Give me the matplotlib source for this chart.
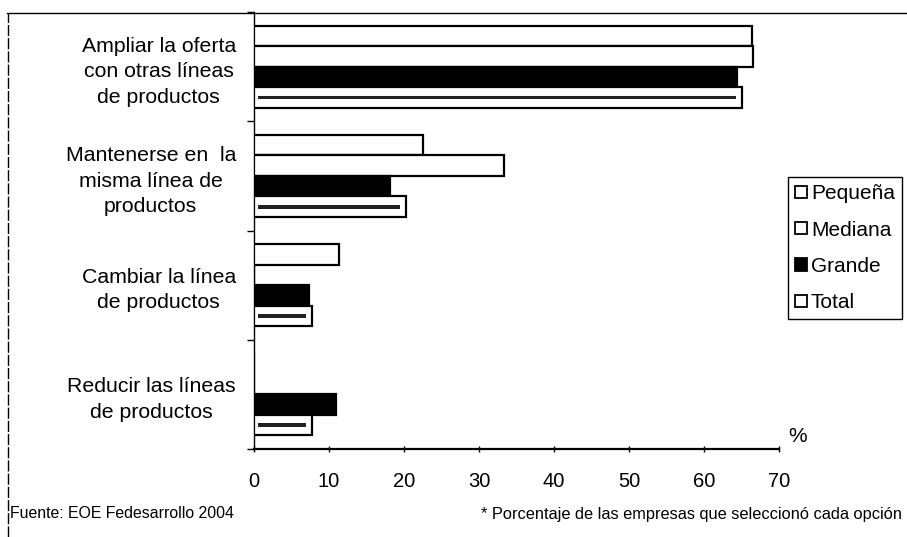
import matplotlib
matplotlib.use("Agg")
import matplotlib.pyplot as plt
from matplotlib.patches import Patch
from matplotlib.lines import Line2D
import numpy as np

plt.rcParams['font.family'] = ['Liberation Sans', 'DejaVu Sans']

categories = [
    "Ampliar la oferta\ncon otras líneas\nde productos",
    "Mantenerse en  la\nmisma línea de\nproductos",
    "Cambiar la línea\nde productos",
    "Reducir las líneas\nde productos",
]
series_names = ["Pequeña", "Mediana", "Grande", "Total"]
pequena = [66.4, 22.5, 11.3, 0.0]
mediana = [66.5, 33.3, 0.0, 0.0]
grande = [64.4, 18.1, 7.3, 10.9]
total = [65.1, 20.3, 7.7, 7.7]
x_ticks = [0, 10, 20, 30, 40, 50, 60, 70]

W, H = 907, 537
fig = plt.figure(figsize=(W / 100, H / 100), dpi=100)
ax = fig.add_axes([254 / W, 1 - 449 / H, (779 - 254) / W, (449 - 12) / H])

n = len(categories)
ypos = np.arange(n)[::-1]  # first category on top
h = 0.188
offsets = [1.5 * h, 0.5 * h, -0.5 * h, -1.5 * h]
fills = ["white", "white", "black", "white"]
data = [pequena, mediana, grande, total]

for vals, off, fc in zip(data, offsets, fills):
    ax.barh(ypos + off, vals, height=h, color=fc, edgecolor="black",
            linewidth=1.6, zorder=3)

# dark band inside the Total bars
tot = np.array(total)
ax.barh(ypos + offsets[3], np.maximum(tot - 1.3, 0), left=0.5, height=0.035,
        color="#222222", edgecolor="none", zorder=4)

ax.set_xlim(0, 70)
ax.set_ylim(-0.5, 3.5)
ax.set_xticks(x_ticks)
ax.set_xticklabels([str(t) for t in x_ticks], fontsize=14.5)
ax.tick_params(axis="x", direction="inout", length=5, width=1, pad=14)
ax.set_yticks(ypos)
ax.set_yticklabels(categories, fontsize=15.3, ha="right", linespacing=1.42)
ax.tick_params(axis="y", length=0, pad=13)
ax.set_yticks(np.arange(-0.5, 3.6, 1.0), minor=True)
ax.tick_params(axis="y", which="minor", direction="out", length=5, width=1)
for lab in ax.get_yticklabels():
    lab.set_multialignment("center")

for s in ["top", "right"]:
    ax.spines[s].set_visible(False)
ax.spines["left"].set_linewidth(1.0)
ax.spines["bottom"].set_linewidth(1.6)

# percent sign at the end of the axis
fig.text(798 / W, 1 - 437 / H, "%", fontsize=15, ha="center", va="center")

# legend
handles = [
    Patch(facecolor="white", edgecolor="black", linewidth=1.3),
    Patch(facecolor="white", edgecolor="black", linewidth=1.3),
    Patch(facecolor="black", edgecolor="black", linewidth=1.3),
    Patch(facecolor="white", edgecolor="black", linewidth=1.3),
]
leg = fig.legend(handles, series_names, loc="upper left",
                 bbox_to_anchor=(788 / W, 1 - 177 / H), fontsize=15,
                 handlelength=0.55, handleheight=0.55, handletextpad=0.2,
                 labelspacing=0.83, borderpad=0.35, borderaxespad=0,
                 fancybox=False, framealpha=1, edgecolor="black")
leg.get_frame().set_linewidth(1.0)

# page frame lines
fig.add_artist(Line2D([7 / W, 1], [1 - 12.5 / H, 1 - 12.5 / H],
                      transform=fig.transFigure, color="black", lw=1.0))
fig.add_artist(Line2D([7.5 / W, 7.5 / W], [0, 1 - 12.5 / H],
                      transform=fig.transFigure, color="black", lw=1.0,
                      linestyle=(0, (8, 1.5))))

# footer notes
fig.text(10 / W, 1 - 514 / H, "Fuente: EOE Fedesarrollo 2004", fontsize=11.4,
         ha="left", va="center")
fig.text(481 / W, 1 - 515 / H, "* Porcentaje de las empresas que seleccionó cada opción",
         fontsize=11.8, ha="left", va="center",
         family=["Liberation Sans Narrow", "Liberation Sans", "DejaVu Sans"])

fig.savefig("out.png", dpi=100)
